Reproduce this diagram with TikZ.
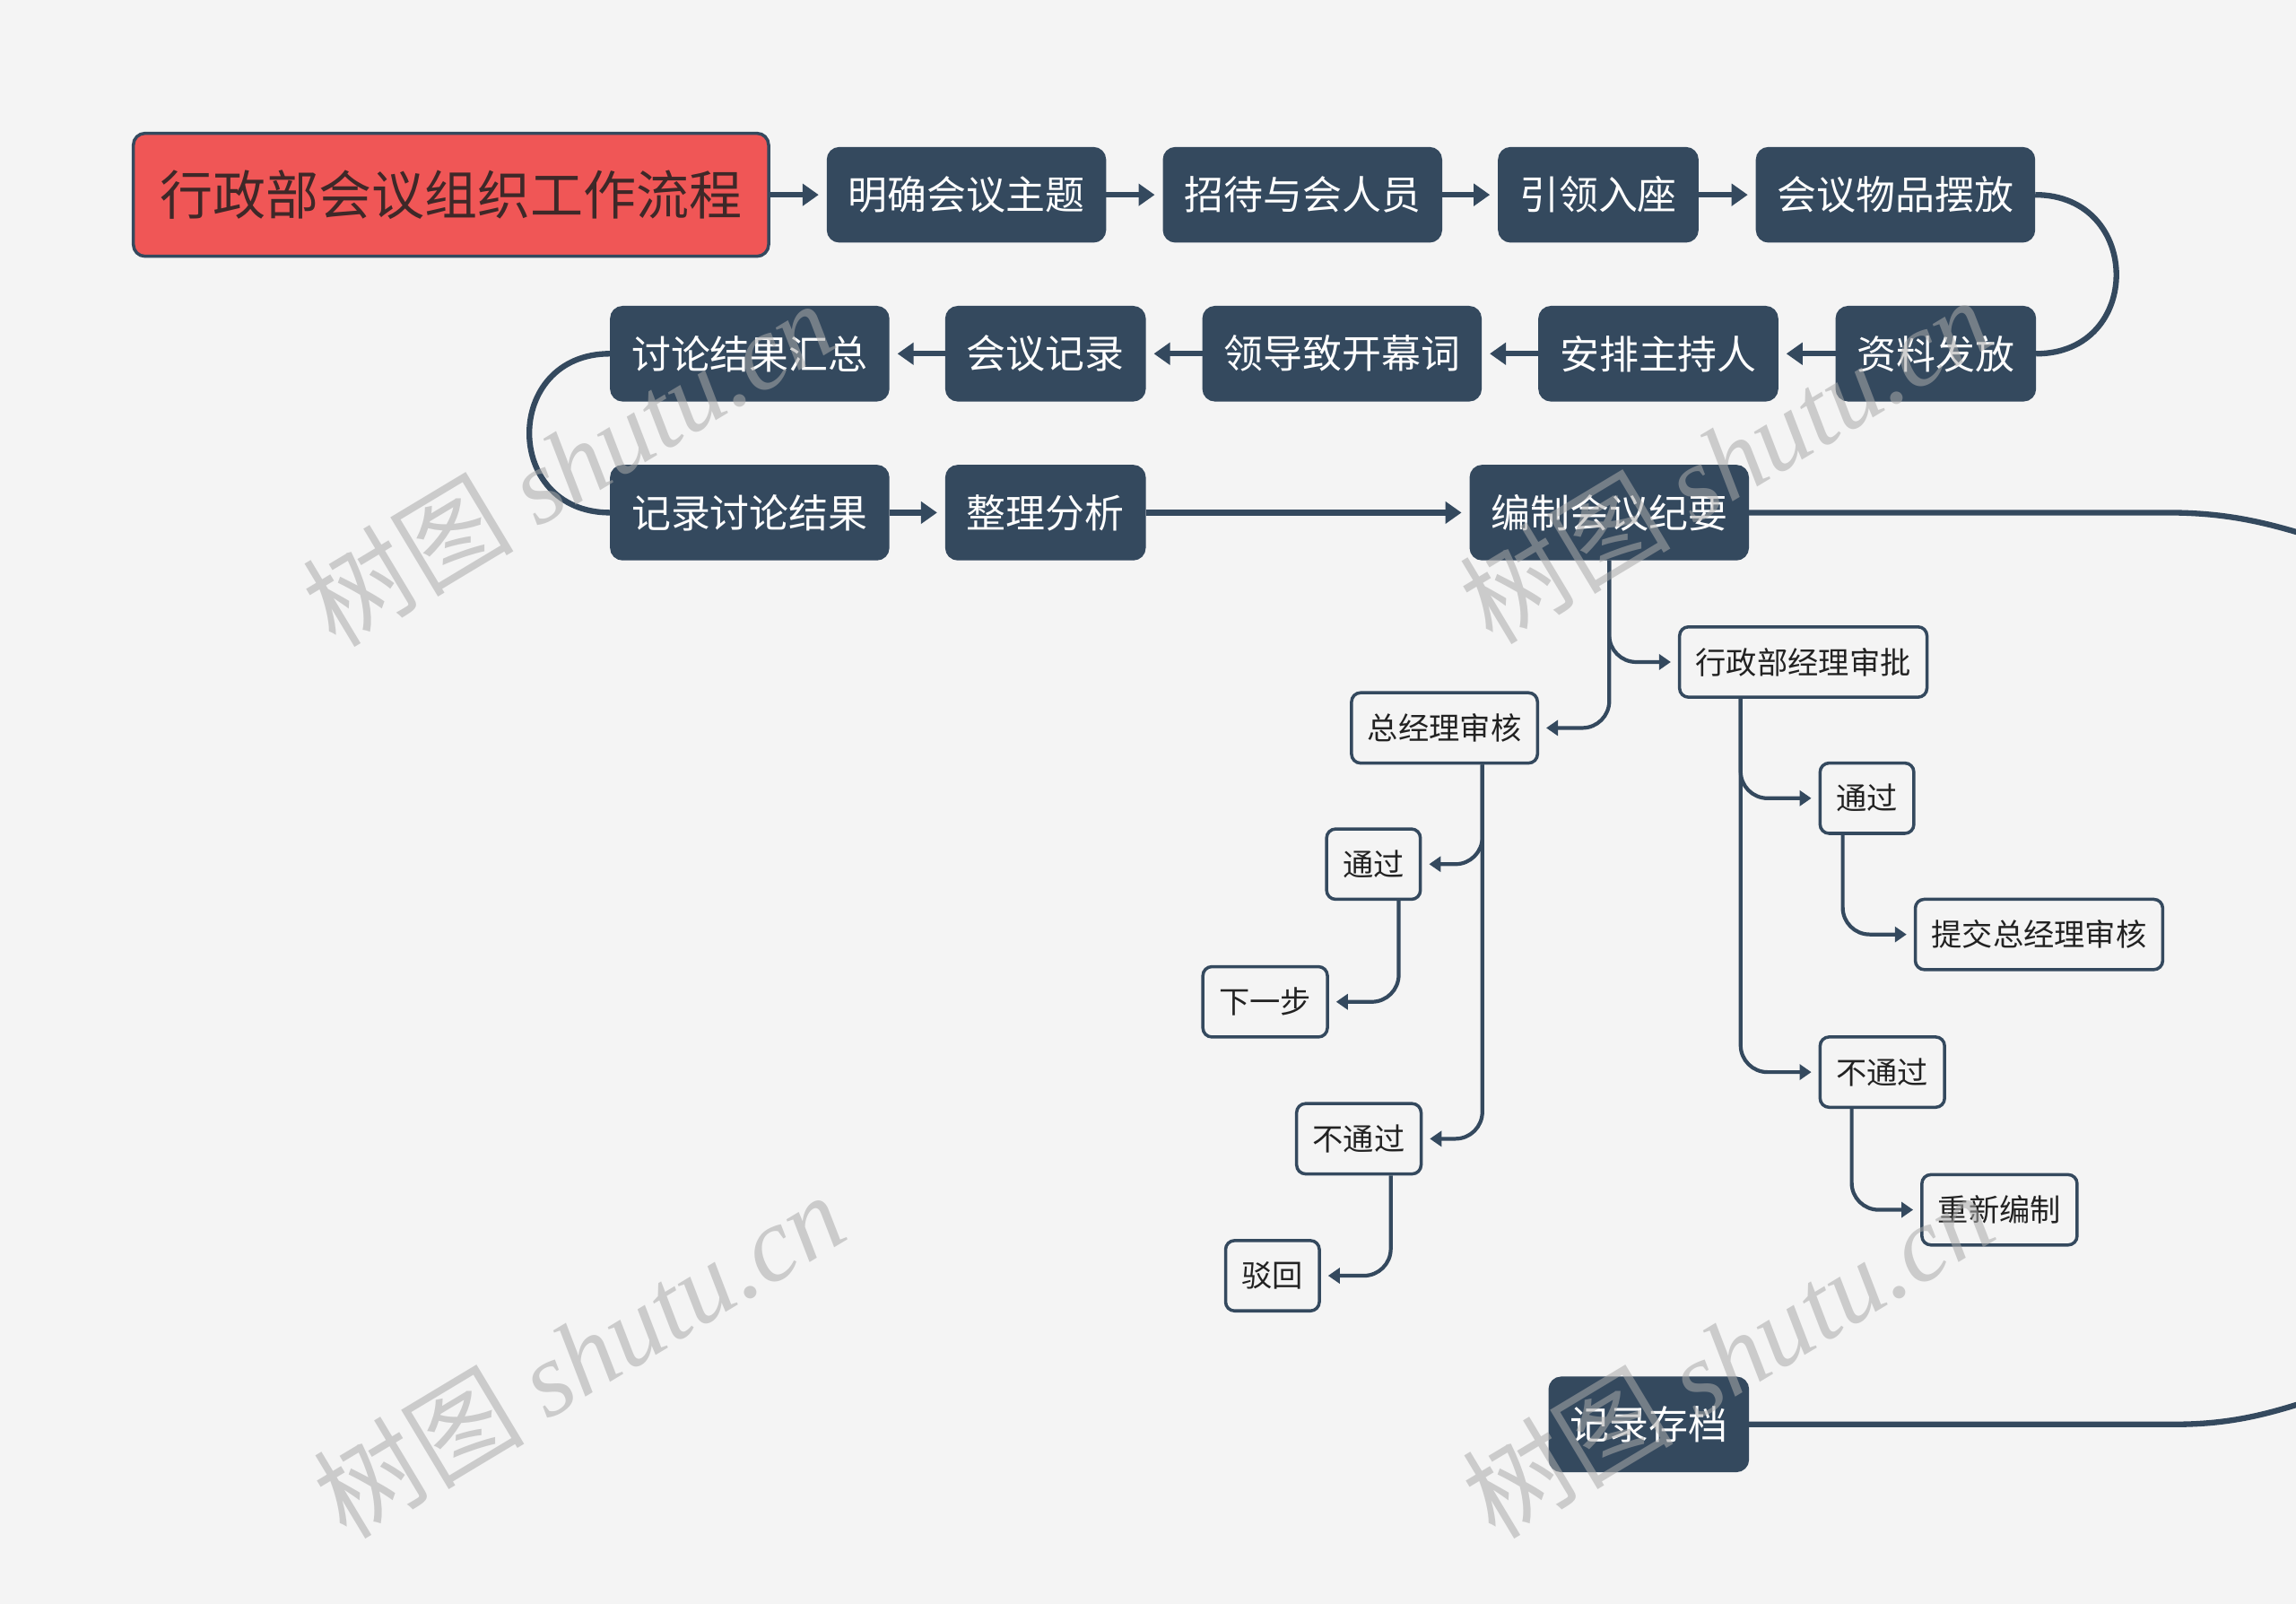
\documentclass[tikz,border=0pt]{standalone}
\usepackage{fontspec}
\setmainfont{Noto Sans CJK SC}
\newfontfamily\wmfont{Liberation Serif}
\usepackage{tikz}
\usetikzlibrary{arrows.meta, calc}
\definecolor{mynavy}{RGB}{52,73,94}
\definecolor{myred}{RGB}{240,86,86}
\definecolor{mybg}{RGB}{244,244,244}
\definecolor{mytext}{RGB}{34,34,34}
\definecolor{roottext}{RGB}{62,40,40}
\definecolor{wmgray}{RGB}{170,170,170}
\tikzset{
  rootblock/.style={rectangle, draw=mynavy, fill=myred, text=roottext,
    minimum height=1.371cm, inner xsep=0.294cm, inner ysep=0pt,
    font=\fontsize{16.8}{20}\selectfont, rounded corners=0.13cm, line width=1pt},
  block/.style={rectangle, draw=mynavy, fill=mynavy, text=white,
    minimum height=1.045cm, inner xsep=0.229cm, inner ysep=0pt,
    font=\fontsize{12.5}{15}\selectfont, rounded corners=0.13cm, line width=0.6pt},
  subblock/.style={rectangle, draw=mynavy, fill=mybg, text=mytext,
    minimum height=0.784cm, inner xsep=0.18cm, inner ysep=0pt,
    font=\fontsize{9.75}{12}\selectfont, rounded corners=0.1cm, line width=1pt},
  arrow/.style={-{Triangle[length=0.18cm, width=0.24cm]}, line width=1.8pt,
    color=mynavy, shorten >=0.09cm},
  line/.style={line width=1.8pt, color=mynavy},
  subarrow/.style={-{Triangle[length=0.13cm, width=0.17cm]}, line width=1.2pt,
    color=mynavy, rounded corners=0.3cm, shorten >=0.08cm},
  watermark/.style={text=wmgray, text opacity=0.55, rotate=31,
    font=\fontsize{33.5}{38}\selectfont}
}

\begin{document}
\begin{tikzpicture}[x=0.016327cm, y=-0.016327cm]
  \path[use as bounding box] (0,0) rectangle (1568,1095);
  \clip (0,0) rectangle (1568,1095);
  \fill[mybg] (0,0) rectangle (1568,1095);

  % Top row
  \node[rootblock] (root) at (308,133) {行政部会议组织工作流程};
  \node[block] (topic) at (660,133) {明确会议主题};
  \node[block] (greet) at (889.5,133) {招待与会人员};
  \node[block] (seat) at (1091.5,133) {引领入座};
  \node[block] (items) at (1294.5,133) {会议物品摆放};
  % Second row
  \node[block] (docs) at (1322,241.5) {资料发放};
  \node[block] (host) at (1132.5,241.5) {安排主持人};
  \node[block] (speech) at (916.5,241.5) {领导致开幕词};
  \node[block] (minutes) at (714,241.5) {会议记录};
  \node[block] (summary) at (512,241.5) {讨论结果汇总};
  % Third row
  \node[block] (record) at (512,350) {记录讨论结果};
  \node[block] (analyse) at (714,350) {整理分析};
  \node[block] (draft) at (1099,350) {编制会议纪要};
  \node[block] (archive) at (1126,972.5) {记录存档};

  % Approval nodes
  \node[subblock] (dept) at (1231.5,452) {行政部经理审批};
  \node[subblock] (deptok) at (1275,545) {通过};
  \node[subblock] (submit) at (1392.5,638) {提交总经理审核};
  \node[subblock] (deptno) at (1285.5,732) {不通过};
  \node[subblock] (redo) at (1365.5,826) {重新编制};
  \node[subblock] (gm) at (986.5,497) {总经理审核};
  \node[subblock] (gmok) at (938,590) {通过};
  \node[subblock] (next) at (864,684) {下一步};
  \node[subblock] (gmno) at (928,777.5) {不通过};
  \node[subblock] (reject) at (869,871) {驳回};

  % Flow
  \draw[arrow] (root) -- (topic);
  \draw[arrow] (topic) -- (greet);
  \draw[arrow] (greet) -- (seat);
  \draw[arrow] (seat) -- (items);
  \draw[line] (items.east) to[out=0, in=0, distance=1.2cm] (docs.east);
  \draw[arrow] (docs) -- (host);
  \draw[arrow] (host) -- (speech);
  \draw[arrow] (speech) -- (minutes);
  \draw[arrow] (minutes) -- (summary);
  \draw[line] (summary.west) to[out=180, in=180, distance=1.2cm] (record.west);
  \draw[arrow] (record) -- (analyse);
  \draw[arrow] (analyse) -- (draft);

  % Lines leaving the page
  \coordinate (exitA) at (1590,370);
  \coordinate (exitB) at (1590,952);
  \draw[line] (draft.east) -- (1480,350) .. controls (1522,350) and (1550,357) .. (exitA);
  \draw[line] (archive.east) -- (1485,972.5) .. controls (1525,972.5) and (1552,965) .. (exitB);

  % Approval branches
  \draw[subarrow] (draft.south) |- (dept.west);
  \draw[subarrow] (draft.south) |- (gm.east);
  \draw[subarrow] ($(dept.south west)!0.25!(dept.south east)$) |- (deptok.west);
  \draw[subarrow] ($(dept.south west)!0.25!(dept.south east)$) |- (deptno.west);
  \draw[subarrow] ($(deptok.south west)!0.25!(deptok.south east)$) |- (submit.west);
  \draw[subarrow] ($(deptno.south west)!0.26!(deptno.south east)$) |- (redo.west);
  \draw[subarrow] ($(gm.south west)!0.7!(gm.south east)$) |- (gmok.east);
  \draw[subarrow] ($(gm.south west)!0.7!(gm.south east)$) |- (gmno.east);
  \draw[subarrow] ($(gmok.south west)!0.76!(gmok.south east)$) |- (next.east);
  \draw[subarrow] ($(gmno.south west)!0.75!(gmno.south east)$) |- (reject.east);

  % Watermarks
  \foreach \x/\y [count=\i] in {388/316, 1178/314, 395/925, 1180/925}
    \node[watermark] (wm\i) at (\x,\y) {树图 {\wmfont\itshape shutu.cn}};
\end{tikzpicture}
\end{document}
